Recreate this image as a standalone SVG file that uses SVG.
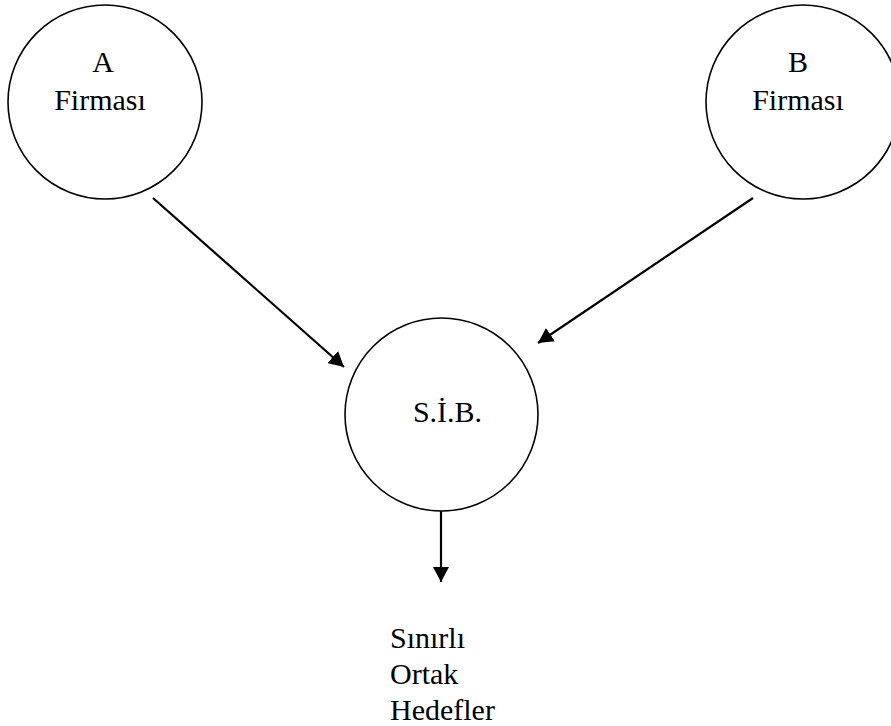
<svg xmlns="http://www.w3.org/2000/svg" width="891" height="726" viewBox="0 0 891 726">
<style>
.node circle{fill:none;stroke:#000;stroke-width:1.6}
text{font-family:"Liberation Serif","Times New Roman",serif;font-size:30px;fill:#000}
.c{text-anchor:middle}
#connectors line{stroke:#000;stroke-width:2.2}
</style>
<defs>
<marker id="ah" markerUnits="userSpaceOnUse" markerWidth="16" markerHeight="16" refX="15" refY="8" orient="auto">
<path d="M0,0 L15,8 L0,16 Z" fill="#000"/>
</marker>
</defs>
<rect width="891" height="726" fill="#fff"/>
<g id="nodeA" class="node">
<circle cx="105" cy="102" r="97"/>
<text class="c" x="103" y="72">A</text>
<text class="c" x="100" y="110">Firması</text>
</g>
<g id="nodeB" class="node">
<circle cx="803" cy="102" r="97"/>
<text class="c" x="798" y="72">B</text>
<text class="c" x="798" y="110">Firması</text>
</g>
<g id="nodeSIB" class="node">
<circle cx="441.5" cy="414.5" r="96.5"/>
<text class="c" x="447.5" y="422">S.İ.B.</text>
</g>
<g id="output">
<text x="390" y="648">Sınırlı</text>
<text x="390" y="684">Ortak</text>
<text x="390" y="720">Hedefler</text>
</g>
<g id="connectors">
<line x1="153" y1="198" x2="344" y2="367" marker-end="url(#ah)"/>
<line x1="753" y1="198" x2="538" y2="343" marker-end="url(#ah)"/>
<line x1="441" y1="511" x2="441" y2="582" marker-end="url(#ah)"/>
</g>
</svg>
